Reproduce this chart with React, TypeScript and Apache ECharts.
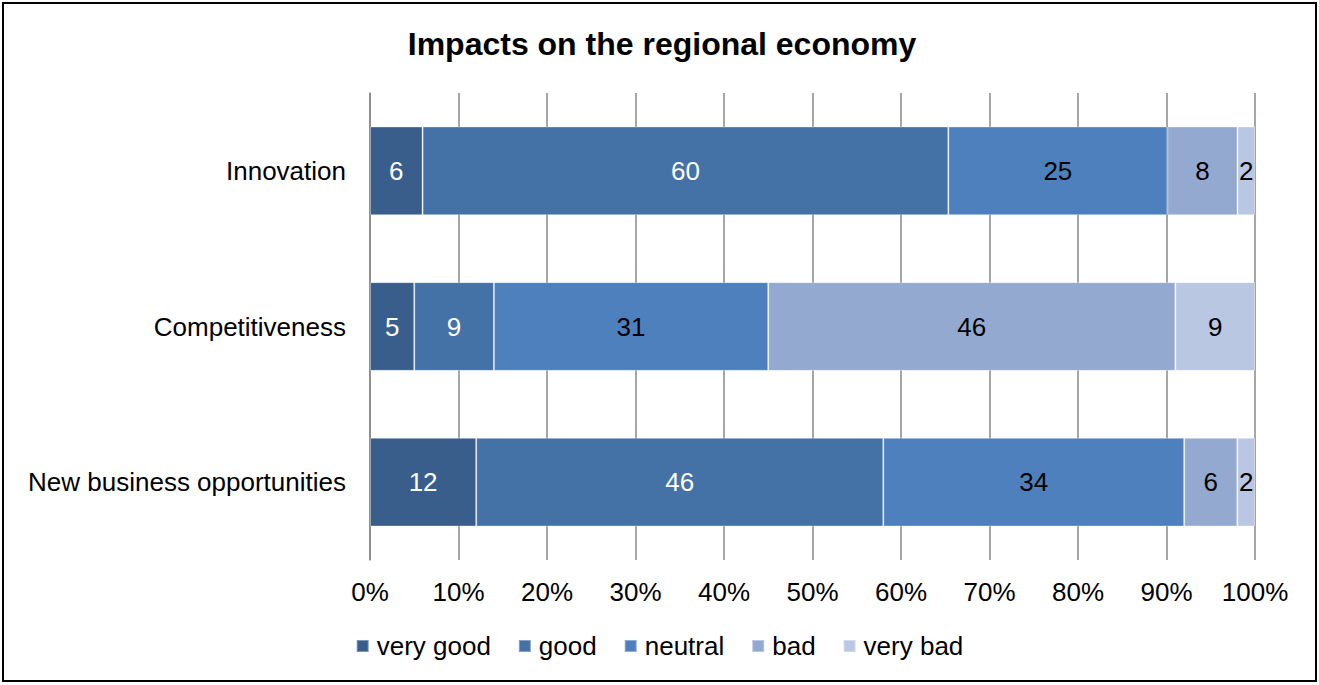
import React, { useEffect, useRef } from "react";
import * as echarts from "echarts";

const categories = ["Innovation", "Competitiveness", "New business opportunities"];
const seriesNames = ["very good", "good", "neutral", "bad", "very bad"];
const veryGood = [6, 5, 12];
const good = [60, 9, 46];
const neutral = [25, 31, 34];
const bad = [8, 46, 6];
const veryBad = [2, 9, 2];
const xTicks = [0, 10, 20, 30, 40, 50, 60, 70, 80, 90, 100];

const colors = ["#3A5E8C", "#4472A6", "#4E80BD", "#94A9D0", "#BAC7E2"];
const labelColors = ["#ffffff", "#ffffff", "#000000", "#000000", "#000000"];

export default function App() {
  const ref = useRef<HTMLDivElement>(null);
  useEffect(() => {
    if (!ref.current) return;
    const chart = echarts.init(ref.current, null, { renderer: "svg" });
    const raw = [veryGood, good, neutral, bad, veryBad];
    const totals = categories.map((_, i) => raw.reduce((s, arr) => s + arr[i], 0));
    const font = "Arial, 'Liberation Sans', sans-serif";
    chart.setOption({
      animation: false,
      backgroundColor: "#ffffff",
      title: {
        text: "Impacts on the regional economy",
        left: 657,
        top: 23,
        textAlign: "center",
        textStyle: { fontFamily: font, fontSize: 32, fontWeight: "bold", color: "#000" },
      },
      graphic: [
        {
          type: "rect",
          shape: { x: 3, y: 3, width: 1313, height: 678 },
          style: { fill: "none", stroke: "#000", lineWidth: 2 },
          silent: true,
        },
      ],
      legend: {
        top: 628,
        left: "center",
        itemWidth: 12,
        itemHeight: 12,
        itemGap: 27,
        icon: "rect",
        textStyle: { fontFamily: font, fontSize: 26, color: "#000", padding: [0, 0, 0, 3] },
        data: seriesNames,
      },
      grid: { left: 370, right: 64, top: 93, bottom: 125, containLabel: false },
      xAxis: {
        type: "value",
        min: 0,
        max: 100,
        interval: 10,
        axisLabel: {
          formatter: (v: number) => (xTicks.includes(v) ? v + "%" : ""),
          fontFamily: font,
          fontSize: 26,
          color: "#000",
          margin: 19,
        },
        axisLine: { show: false },
        axisTick: { show: false },
        splitLine: { show: true, lineStyle: { color: "#888888", width: 1.5 } },
      },
      yAxis: {
        type: "category",
        data: categories,
        inverse: true,
        axisLine: { show: true, lineStyle: { color: "#888888", width: 1.5 } },
        axisTick: { show: false },
        axisLabel: { fontFamily: font, fontSize: 26, color: "#000", margin: 24 },
      },
      series: raw.map((arr, si) => ({
        name: seriesNames[si],
        type: "bar",
        stack: "total",
        barCategoryGap: "43%",
        itemStyle: { color: colors[si], borderColor: "rgba(255,255,255,0.35)", borderWidth: 1 },
        label: {
          show: true,
          position: "inside",
          fontFamily: font,
          fontSize: 26,
          color: labelColors[si],
          formatter: (p: any) => String(arr[p.dataIndex]),
        },
        data: arr.map((v, i) => (v / totals[i]) * 100),
      })),
    });
    return () => chart.dispose();
  }, []);
  return (
    <div
      ref={ref}
      style={{ position: "fixed", left: 0, top: 0, width: 1319, height: 685 }}
    />
  );
}
